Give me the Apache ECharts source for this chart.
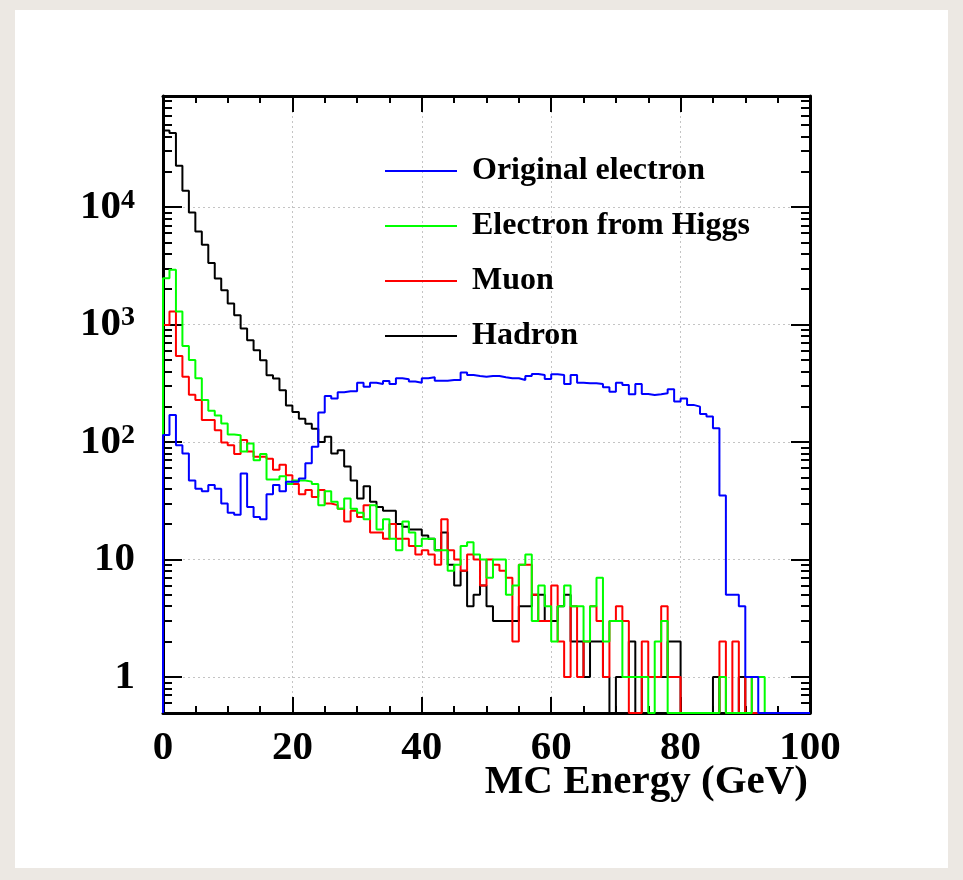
<!DOCTYPE html>
<html>
<head>
<meta charset="utf-8">
<script src="https://cdn.jsdelivr.net/npm/echarts@6/dist/echarts.min.js"></script>
<style>
  html, body { margin: 0; padding: 0; width: 963px; height: 880px; background: #ece8e3; overflow: hidden; }
  #chart { position: absolute; left: 15px; top: 10px; width: 933px; height: 858px; background: #ffffff; }
</style>
</head>
<body>
<div id="chart"></div>
<script>
// Histogram binning: 100 bins of 1 GeV from 0 to 100 GeV
const X_MIN = 0;
const X_MAX = 100;
const BIN_WIDTH = 1;

// Log y range of the frame
const Y_MIN = 0.493;
const Y_MAX = 88300;

const xTickValues = [0, 20, 40, 60, 80, 100];
const yLabelValues = [1, 10, 100, 1000, 10000];

const xTitle = 'MC Energy (GeV)';
const seriesNames = ['Original electron', 'Electron from Higgs', 'Muon', 'Hadron'];

// Entries per bin
const originalElectron = [
  115, 170, 94, 80, 47, 40, 38, 43, 40, 30,
  25, 24, 54, 28, 23, 22, 36, 43, 38, 46,
  46, 49, 66, 91, 178, 247, 235, 265, 270, 270,
  320, 296, 320, 312, 331, 312, 349, 342, 327, 320,
  349, 356, 333, 333, 337, 337, 390, 372, 365, 360,
  365, 365, 356, 349, 349, 337, 365, 380, 372, 344,
  377, 372, 312, 372, 320, 316, 316, 312, 292, 268,
  320, 306, 255, 312, 256, 251, 255, 260, 281, 221,
  235, 207, 200, 173, 165, 131, 35, 5, 5, 4,
  1, 1, 0, 0, 0, 0, 0, 0, 0, 0
];

const electronFromHiggs = [
  2480, 2925, 1291, 658, 500, 349, 228, 185, 168, 144,
  116, 114, 83, 97, 70, 79, 48, 48, 51, 44,
  47, 47, 46, 44, 29, 38, 31, 27, 33, 27,
  25, 22, 29, 18, 22, 15, 12, 21, 17, 13,
  15, 15, 12, 12, 8, 9, 13, 14, 11, 10,
  7, 10, 10, 5, 6, 9, 11, 3, 6, 4,
  2, 4, 6, 4, 4, 2, 4, 7, 2, 3,
  3, 1, 1, 1, 1, 0, 2, 3, 0, 0,
  0, 0, 0, 0, 0, 0, 1, 0, 0, 0,
  0, 1, 1, 0, 0, 0, 0, 0, 0, 0
];

const muon = [
  993, 1291, 541, 360, 252, 228, 154, 154, 126, 99,
  94, 79, 104, 83, 75, 75, 72, 58, 64, 52,
  44, 36, 39, 34, 39, 30, 29, 27, 21, 26,
  23, 29, 17, 17, 15, 20, 15, 15, 13, 11,
  12, 11, 9, 22, 12, 10, 8, 11, 10, 6,
  10, 9, 8, 7, 2, 9, 9, 5, 3, 3,
  6, 2, 1, 4, 1, 2, 4, 3, 1, 3,
  4, 3, 0, 0, 2, 1, 1, 4, 1, 1,
  0, 0, 0, 0, 0, 0, 2, 0, 2, 0,
  1, 0, 0, 0, 0, 0, 0, 0, 0, 0
];

const hadron = [
  45000, 42800, 22500, 13800, 9000, 6200, 4780, 3340, 2470, 1963,
  1511, 1202, 925, 735, 604, 497, 370, 347, 276, 205,
  180, 158, 143, 130, 100, 111, 80, 85, 62, 47,
  33, 42, 31, 28, 26, 26, 20, 19, 18, 18,
  16, 15, 12, 17, 9, 6, 8, 4, 5, 6,
  4, 3, 3, 3, 3, 4, 4, 5, 5, 3,
  3, 4, 5, 2, 2, 1, 2, 2, 1, 0,
  1, 1, 2, 0, 1, 1, 1, 1, 2, 2,
  0, 0, 0, 0, 0, 1, 0, 0, 0, 1,
  0, 0, 0, 0, 0, 0, 0, 0, 0, 0
];

const FONT = "'Liberation Serif', 'Times New Roman', serif";

// Outline of a histogram: rises from the frame floor at X_MIN, follows each bin,
// and drops back to the floor at X_MAX; empty bins sit on the floor.
function histOutline(counts) {
  const level = c => (c > 0 ? c : Y_MIN);
  const pts = [[X_MIN, Y_MIN]];
  counts.forEach((c, i) => pts.push([X_MIN + i * BIN_WIDTH, level(c)]));
  pts.push([X_MAX, level(counts[counts.length - 1])]);
  pts.push([X_MAX, Y_MIN]);
  return pts;
}

// Minor log ticks at 2..9 x 10^n, in log10 units
const minorLogTicks = [];
for (let d = -1; d <= 4; d++) {
  for (let k = 2; k <= 9; k++) {
    const v = k * Math.pow(10, d);
    if (v > Y_MIN && v < Y_MAX) minorLogTicks.push(Math.log10(v));
  }
}
const majorLogTicks = yLabelValues.map(v => Math.log10(v));
const LOG_MIN = Math.log10(Y_MIN);
const LOG_MAX = Math.log10(Y_MAX);

const frameLine = { show: true, onZero: false, lineStyle: { color: '#000', width: 3 } };
const gridLine = { show: true, lineStyle: { color: '#c4c4c4', width: 1, type: [2, 3] } };
const tickStyle = { color: '#000', width: 2 };
const frameRect = { left: 148, right: 138, top: 86, bottom: 155, outerBoundsMode: 'none', containLabel: false };

function yLabel(v) {
  const lg = Math.log10(v);
  const e = Math.round(lg);
  if (Math.abs(lg - e) > 1e-6) return '';
  if (e <= 1) return '{b|' + Math.round(v) + '}';
  return '{b|10}{s|' + e + '}';
}

const colors = {
  'Original electron': '#0000ff',
  'Electron from Higgs': '#00ff00',
  'Muon': '#ff0000',
  'Hadron': '#000000'
};

function histSeries(name, counts) {
  return {
    name: name,
    type: 'line',
    step: 'end',
    xAxisIndex: 0,
    yAxisIndex: 0,
    showSymbol: false,
    symbol: 'none',
    silent: true,
    lineStyle: { color: colors[name], width: 2 },
    itemStyle: { color: colors[name] },
    data: histOutline(counts)
  };
}

const chart = echarts.init(document.getElementById('chart'), null, { renderer: 'canvas' });

chart.setOption({
  backgroundColor: '#ffffff',
  animation: false,
  // x-axis title, right-aligned with the end of the axis
  title: {
    text: xTitle,
    right: 140,
    top: 752,
    padding: 0,
    textStyle: { fontFamily: FONT, fontWeight: 'bold', fontSize: 41, lineHeight: 41, color: '#000' }
  },
  // grid 0 carries the data, grid 1 (same frame) only carries the minor log ticks
  grid: [Object.assign({}, frameRect), Object.assign({}, frameRect)],
  legend: {
    orient: 'vertical',
    left: 370,
    top: 145,
    padding: 0,
    itemWidth: 72,
    itemHeight: 2,
    itemGap: 23,
    icon: 'rect',
    selectedMode: false,
    data: seriesNames,
    textStyle: {
      fontFamily: FONT, fontWeight: 'bold', fontSize: 32, lineHeight: 32,
      color: '#000', padding: [0, 0, 0, 10]
    }
  },
  xAxis: [
    {
      gridIndex: 0, type: 'value', position: 'bottom', min: X_MIN, max: X_MAX, interval: 20,
      axisLine: frameLine,
      axisTick: { show: true, inside: true, length: 16, lineStyle: tickStyle },
      minorTick: { show: true, splitNumber: 4, length: 7, lineStyle: tickStyle },
      axisLabel: {
        customValues: xTickValues,
        margin: 15, fontFamily: FONT, fontWeight: 'bold', fontSize: 41, color: '#000'
      },
      splitLine: gridLine
    },
    {
      gridIndex: 0, type: 'value', position: 'top', min: X_MIN, max: X_MAX, interval: 20,
      axisLine: frameLine,
      axisTick: { show: true, inside: true, length: 16, lineStyle: tickStyle },
      minorTick: { show: true, splitNumber: 4, length: 7, lineStyle: tickStyle },
      axisLabel: { show: false },
      splitLine: { show: false }
    },
    {
      gridIndex: 1, type: 'value', position: 'bottom', min: X_MIN, max: X_MAX, show: false
    }
  ],
  yAxis: [
    {
      gridIndex: 0, type: 'log', logBase: 10, position: 'left', min: Y_MIN, max: Y_MAX,
      axisLine: frameLine,
      axisTick: { show: true, inside: true, length: 19, lineStyle: tickStyle },
      axisLabel: {
        margin: 28, showMinLabel: false, showMaxLabel: false,
        formatter: yLabel,
        rich: {
          b: { fontFamily: FONT, fontWeight: 'bold', fontSize: 41, lineHeight: 41, color: '#000' },
          s: { fontFamily: FONT, fontWeight: 'bold', fontSize: 28, lineHeight: 28, color: '#000', verticalAlign: 'top' }
        }
      },
      splitLine: gridLine
    },
    {
      gridIndex: 0, type: 'value', position: 'right', min: LOG_MIN, max: LOG_MAX,
      axisLine: frameLine,
      axisTick: { show: true, inside: true, length: 19, lineStyle: tickStyle, customValues: majorLogTicks },
      axisLabel: { show: false },
      splitLine: { show: false }
    },
    {
      gridIndex: 1, type: 'value', position: 'left', min: LOG_MIN, max: LOG_MAX,
      axisLine: { show: false },
      axisTick: { show: true, inside: true, length: 9, lineStyle: tickStyle, customValues: minorLogTicks },
      axisLabel: { show: false },
      splitLine: { show: false }
    },
    {
      gridIndex: 1, type: 'value', position: 'right', min: LOG_MIN, max: LOG_MAX,
      axisLine: { show: false },
      axisTick: { show: true, inside: true, length: 9, lineStyle: tickStyle, customValues: minorLogTicks },
      axisLabel: { show: false },
      splitLine: { show: false }
    }
  ],
  series: [
    histSeries('Hadron', hadron),
    histSeries('Muon', muon),
    histSeries('Electron from Higgs', electronFromHiggs),
    histSeries('Original electron', originalElectron)
  ]
});
</script>
</body>
</html>
